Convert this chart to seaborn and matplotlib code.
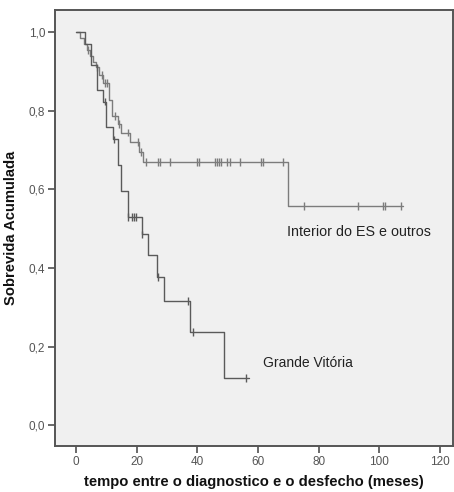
import matplotlib
matplotlib.use("Agg")
import matplotlib.pyplot as plt
from matplotlib.ticker import FuncFormatter
import seaborn as sns
import pandas as pd

# ---- data ----
groups = ["Interior do ES e outros", "Grande Vitória"]

# Interior do ES e outros: step times and survival after each step
ies_t = [0, 1.3, 2.5, 3.5, 4.5, 5.5, 6.5, 7.5, 9.0, 11.0, 11.8, 13.9, 14.8, 17.8, 20.8, 22.0, 70.0, 107.8]
ies_s = [1.0, 0.985, 0.97, 0.955, 0.94, 0.925, 0.91, 0.89, 0.87, 0.827, 0.786, 0.766, 0.744, 0.721, 0.695, 0.670, 0.558, 0.558]
ies_cens_t = [4.0, 7.0, 8.5, 9.6, 10.3, 12.8, 14.2, 17.3, 20.3, 21.3,
              23.1, 27.0, 27.7, 31.0, 40.0, 40.7, 45.9, 46.6, 47.2, 47.9, 49.9, 50.8, 54.1, 60.9, 61.8, 68.1,
              75.2, 93.0, 101.1, 101.8, 107.3]
ies_cens_s = [0.955, 0.91, 0.89, 0.87, 0.87, 0.786, 0.766, 0.744, 0.721, 0.695,
              0.670, 0.670, 0.670, 0.670, 0.670, 0.670, 0.670, 0.670, 0.670, 0.670, 0.670, 0.670, 0.670, 0.670, 0.670, 0.670,
              0.558, 0.558, 0.558, 0.558, 0.558]

# Grande Vitória
gv_t = [0, 3.0, 5.0, 7.0, 8.8, 9.8, 12.1, 13.9, 14.8, 17.0, 21.9, 23.8, 26.6, 29.0, 37.6, 48.9, 57.1]
gv_s = [1.0, 0.97, 0.916, 0.852, 0.823, 0.759, 0.727, 0.662, 0.595, 0.529, 0.485, 0.433, 0.377, 0.316, 0.237, 0.120, 0.120]
gv_cens_t = [9.5, 12.5, 17.3, 18.4, 19.2, 19.9, 21.8, 27.2, 37.0, 38.7, 56.0]
gv_cens_s = [0.823, 0.727, 0.529, 0.529, 0.529, 0.529, 0.485, 0.377, 0.316, 0.237, 0.120]

x_ticks = [0, 20, 40, 60, 80, 100, 120]
y_ticks = [0.0, 0.2, 0.4, 0.6, 0.8, 1.0]

curves = pd.concat([
    pd.DataFrame({"t": ies_t, "S": ies_s, "grupo": groups[0]}),
    pd.DataFrame({"t": gv_t, "S": gv_s, "grupo": groups[1]}),
], ignore_index=True)
cens = pd.concat([
    pd.DataFrame({"t": ies_cens_t, "S": ies_cens_s, "grupo": groups[0]}),
    pd.DataFrame({"t": gv_cens_t, "S": gv_cens_s, "grupo": groups[1]}),
], ignore_index=True)

palette = {groups[0]: "#7c7c7c", groups[1]: "#5a5a5a"}

sns.set_style("white")
plt.rcParams["font.family"] = ["Liberation Sans", "DejaVu Sans"]

fig = plt.figure(figsize=(4.54, 4.92), dpi=100)
ax = fig.add_axes([55 / 454, 46 / 492, 398 / 454, 436 / 492])
ax.set_facecolor("#f0f0f0")

for g in groups:
    sub = curves[curves["grupo"] == g]
    sns.lineplot(data=sub, x="t", y="S", ax=ax, color=palette[g], drawstyle="steps-post",
                 estimator=None, sort=False, linewidth=1.0, legend=False)
sns.scatterplot(data=cens, x="t", y="S", hue="grupo", palette=palette, marker="|",
                s=30, linewidth=1.0, legend=False, ax=ax)

ax.set_xlim(-6.9, 124.3)
ax.set_ylim(-0.053, 1.056)
ax.set_xticks(x_ticks)
ax.set_yticks(y_ticks)
ax.xaxis.set_major_formatter(FuncFormatter(lambda v, p: f"{v:.0f}"))
ax.yaxis.set_major_formatter(FuncFormatter(lambda v, p: f"{v:.1f}".replace(".", ",")))
ax.tick_params(axis="both", which="major", direction="out", length=5, width=1.2,
               color="#505050", labelsize=8.5, labelcolor="#555555", pad=2,
               bottom=True, left=True)
for sp in ax.spines.values():
    sp.set_color("#555555")
    sp.set_linewidth(1.4)

ax.set_xlabel("tempo entre o diagnostico e o desfecho (meses)", fontsize=10.6,
              fontweight="bold", color="#111111", labelpad=5)
ax.set_ylabel("Sobrevida Acumulada", fontsize=10.6, fontweight="bold",
              color="#111111", labelpad=8)

ax.text(69.6, 0.492, groups[0], fontsize=10.3, color="#222222", va="center", ha="left")
ax.text(61.7, 0.158, groups[1], fontsize=10.0, color="#222222", va="center", ha="left")

fig.savefig("out.png", dpi=100, facecolor="white")
